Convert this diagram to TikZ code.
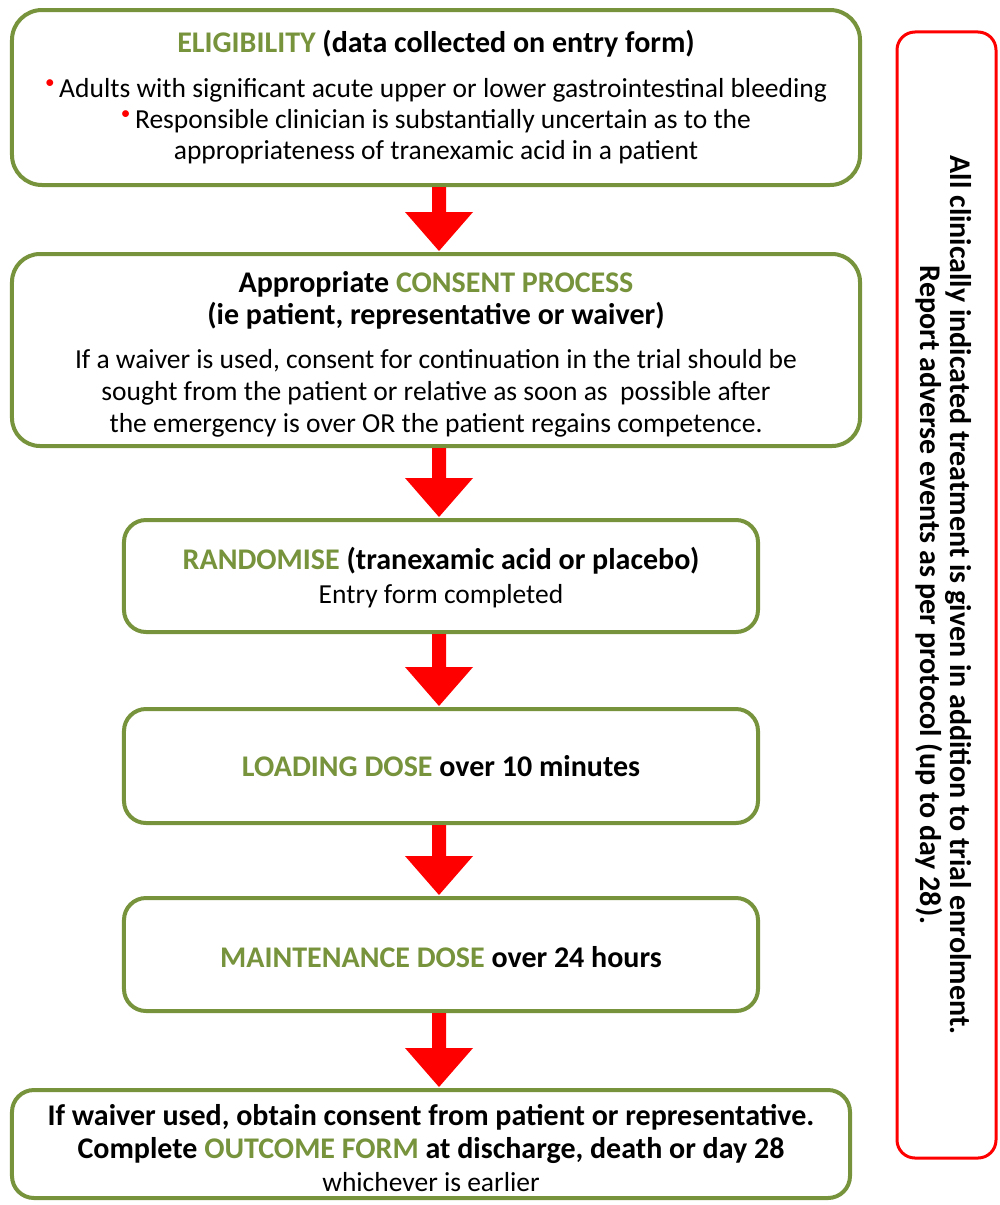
\documentclass[tikz,border=0pt]{standalone}
\usepackage{fontspec}
\setmainfont{Carlito}
\usetikzlibrary{calc}
\definecolor{boxgreen}{HTML}{77933C}
\definecolor{arrred}{HTML}{FF0000}
\newcommand{\gr}[1]{\textcolor{boxgreen}{#1}}
\newcommand{\rb}{{\color{arrred}\raisebox{0.35em}{\scalebox{0.7}{\textbullet}}}\,}
\newcommand{\fsz}[2]{\fontsize{#1bp}{#2bp}\selectfont}
\newcommand{\bt}{\bfseries\fsz{30}{32}}
\newcommand{\flowarrow}[2]{%
  \fill[arrred] let \p1=(#1.south), \p2=(#2.north) in
    (439bp-7bp,\y1) -- (439bp+7bp,\y1) -- (439bp+7bp,\y2+40bp)
    -- (439bp+34bp,\y2+40bp) -- (439bp,\y2+1bp) -- (439bp-34bp,\y2+40bp)
    -- (439bp-7bp,\y2+40bp) -- cycle;}
\begin{document}
\begin{tikzpicture}[x=1bp,y=-1bp,
  flowbox/.style={draw=boxgreen, line width=4bp, rounded corners=22bp, fill=white,
    align=center, inner sep=0pt},
  notebox/.style={draw=arrred, line width=3bp, rounded corners=18bp, inner sep=0pt}]
\useasboundingbox[fill=white] (0,0) rectangle (1000,1205);

\node[flowbox, rounded corners=30bp, minimum width=848bp, minimum height=175bp,
  font=\fsz{27.5}{31}] (b1) at (436,97.5)
  {{\bt\gr{ELIGIBILITY} (data collected on entry form)}\\[14bp]
   \rb Adults with significant acute upper or lower gastrointestinal bleeding\\
   \rb Responsible clinician is substantially uncertain as to the\\
   appropriateness of tranexamic acid in a patient};

\node[flowbox, rounded corners=28bp, minimum width=848bp, minimum height=192bp,
  font=\fsz{27.5}{32}] (b2) at (436,350)
  {{\bt\rule{0pt}{30bp}Appropriate \gr{CONSENT PROCESS}}\\
   {\bt (ie patient, representative or waiver)}\\[12bp]
   If a waiver is used, consent for continuation in the trial should be\\
   sought from the patient or relative as soon as\ \ possible after\\
   the emergency is over OR the patient regains competence.};

\node[flowbox, minimum width=634bp, minimum height=112bp,
  font=\fsz{27.5}{34}] (b3) at (441,576)
  {{\bt\rule{0pt}{26bp}\gr{RANDOMISE} (tranexamic acid or placebo)}\\
   Entry form completed};

\node[flowbox, minimum width=634bp, minimum height=114bp,
  font=\bt] (b4) at (441,766)
  {\gr{LOADING DOSE} over 10 minutes};

\node[flowbox, minimum width=634bp, minimum height=113bp,
  font=\bt] (b5) at (441,954.5)
  {\rule{0pt}{26bp}\gr{MAINTENANCE DOSE} over 24 hours};

\node[flowbox, minimum width=838bp, minimum height=108bp,
  font=\fsz{27.5}{33}] (b6) at (431,1144)
  {{\bt\rule{0pt}{30bp}If waiver used, obtain consent from patient or representative.}\\
   {\bt Complete \gr{OUTCOME FORM} at discharge, death or day 28}\\
   whichever is earlier};

\node[notebox, minimum width=99bp, minimum height=1126bp] (note) at (946.5,595) {};
\node[rotate=-90, align=center, font=\bfseries\fsz{30}{30}] (notetext) at (944,595)
  {All clinically indicated treatment is given in addition to trial enrolment.\\
   Report adverse events as per protocol (up to day 28).};

\flowarrow{b1}{b2}
\flowarrow{b2}{b3}
\flowarrow{b3}{b4}
\flowarrow{b4}{b5}
\flowarrow{b5}{b6}
\end{tikzpicture}
\end{document}
